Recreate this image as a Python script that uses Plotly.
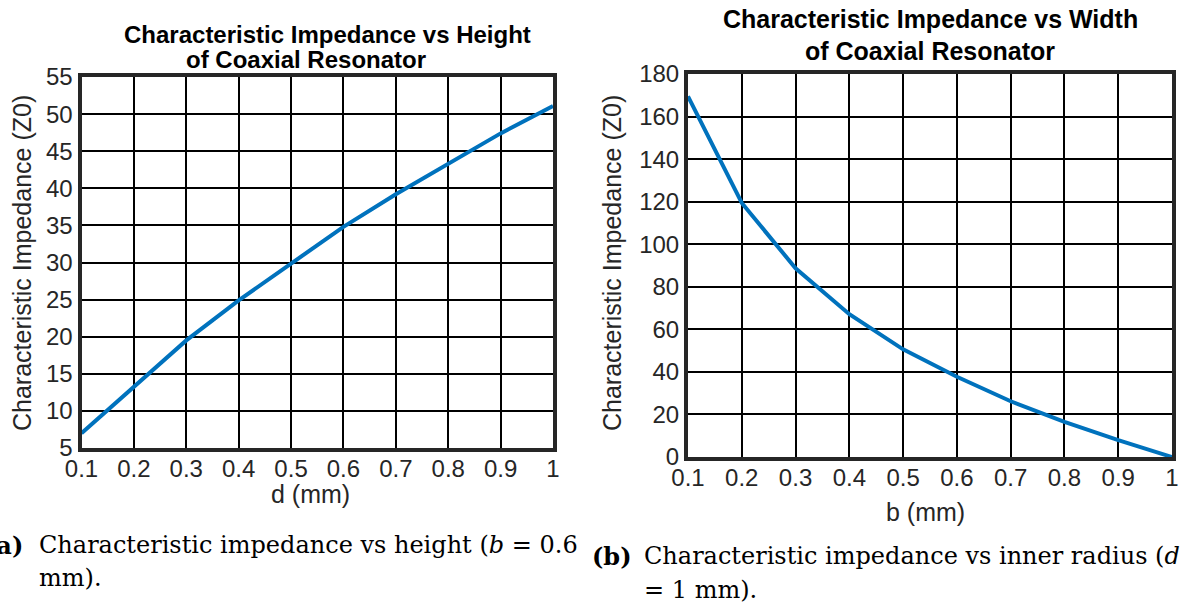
import plotly.graph_objects as go

# Characteristic impedance of the coaxial resonator
d_mm = [0.1, 0.2, 0.3, 0.4, 0.5, 0.6, 0.7, 0.8, 0.9, 1.0]
z0_vs_d = [7.0, 13.3, 19.5, 24.9, 29.9, 34.8, 39.2, 43.3, 47.4, 51.1]

b_mm = [0.1, 0.2, 0.3, 0.4, 0.5, 0.6, 0.7, 0.8, 0.9, 1.0]
z0_vs_b = [169.5, 119.4, 88.7, 67.1, 50.6, 37.7, 26.2, 16.5, 7.9, 0.0]

x_ticks = [0.1, 0.2, 0.3, 0.4, 0.5, 0.6, 0.7, 0.8, 0.9, 1.0]
x_tick_text = ["0.1", "0.2", "0.3", "0.4", "0.5", "0.6", "0.7", "0.8", "0.9", "1"]
y_ticks_a = [5, 10, 15, 20, 25, 30, 35, 40, 45, 50, 55]
y_ticks_b = [0, 20, 40, 60, 80, 100, 120, 140, 160, 180]

W, H = 1188, 610
LINE_BLUE = "#0072BD"
AXIS_DARK = "#262626"
SANS = "Liberation Sans, Arial, sans-serif"
SERIF = "DejaVu Serif, serif"


def px_x(p):
    return p / W


def px_y(p):
    return 1 - p / H


fig = go.Figure()
fig.add_trace(go.Scatter(x=d_mm, y=z0_vs_d, mode="lines",
                         line=dict(color=LINE_BLUE, width=4),
                         xaxis="x", yaxis="y", showlegend=False))
fig.add_trace(go.Scatter(x=b_mm, y=z0_vs_b, mode="lines",
                         line=dict(color=LINE_BLUE, width=4),
                         xaxis="x2", yaxis="y2", showlegend=False))

axis_common = dict(
    showgrid=True, gridcolor="black", gridwidth=1.5,
    showline=True, mirror=True, linecolor=AXIS_DARK, linewidth=4,
    zeroline=False, ticks="", automargin=False,
)
x_font = dict(family=SANS, size=24, color=AXIS_DARK)
y_font = dict(family=SANS, size=24, color=AXIS_DARK)

fig.update_layout(
    width=W, height=H,
    margin=dict(l=0, r=0, t=0, b=0),
    paper_bgcolor="white", plot_bgcolor="white",
    xaxis=dict(domain=[px_x(81.5), px_x(553)], range=[0.1, 1.0],
               tickvals=x_ticks, ticktext=x_tick_text, anchor="y",
               tickfont=x_font, ticklabelstandoff=-4, **axis_common),
    yaxis=dict(domain=[px_y(448), px_y(77)], range=[5, 55],
               tickvals=y_ticks_a, anchor="x", tickfont=y_font,
               **axis_common),
    xaxis2=dict(domain=[px_x(688), px_x(1172)], range=[0.1, 1.0],
                tickvals=x_ticks, ticktext=x_tick_text, anchor="y2",
                tickfont=x_font, ticklabelstandoff=-4, **axis_common),
    yaxis2=dict(domain=[px_y(457), px_y(74)], range=[0, 180],
                tickvals=y_ticks_b, anchor="x2", tickfont=y_font,
                **axis_common),
)


def label(text, x, y, size, family=SANS, color=AXIS_DARK, angle=0,
          xanchor="center"):
    fig.add_annotation(text=text, x=px_x(x), y=px_y(y), xref="paper",
                       yref="paper", showarrow=False, textangle=angle,
                       xanchor=xanchor, yanchor="middle",
                       font=dict(family=family, size=size, color=color))


# panel titles
label("<b>Characteristic Impedance vs Height</b>", 327, 35, 24, color="black")
label("<b>of Coaxial Resonator</b>", 306, 59, 24, color="black")
label("<b>Characteristic Impedance vs Width</b>", 930, 19, 25, color="black")
label("<b>of Coaxial Resonator</b>", 930, 51, 25, color="black")

# axis titles
label("Characteristic Impedance (Z0)", 22, 263, 25, angle=-90)
label("Characteristic Impedance (Z0)", 612, 263, 25, angle=-90)
label("d (mm)", 310, 494, 25)
label("b (mm)", 926, 512, 25)

# sub-figure captions
label("<b>(a)</b>", 25, 545, 24, family=SERIF, color="black", xanchor="right")
label("Characteristic impedance vs height (<i>b</i> = 0.6", 37, 545, 24,
      family=SERIF, color="black", xanchor="left")
label("mm).", 37, 578, 24, family=SERIF, color="black", xanchor="left")
label("<b>(b)</b>", 590, 556, 24, family=SERIF, color="black", xanchor="left")
label("Characteristic impedance vs inner radius (<i>d</i>", 642, 556, 24,
      family=SERIF, color="black", xanchor="left")
label("= 1 mm).", 642, 590, 24, family=SERIF, color="black", xanchor="left")

fig.write_html("out.html")
